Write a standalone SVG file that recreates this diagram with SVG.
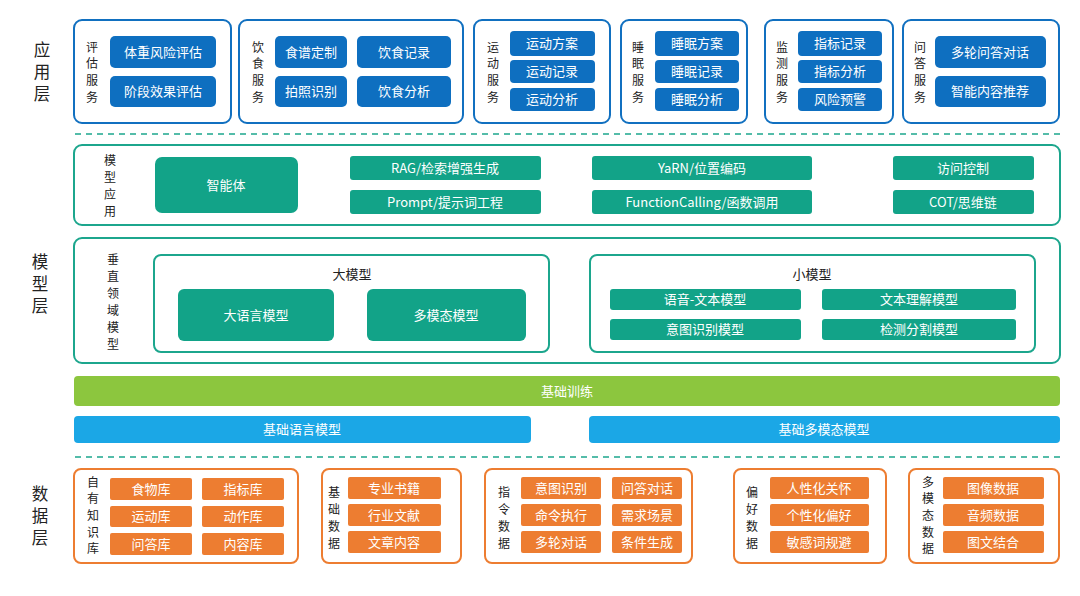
<svg xmlns="http://www.w3.org/2000/svg" width="1080" height="596" viewBox="0 0 1080 596">
<style>
text{font-family:"Noto Sans CJK SC","Noto Sans",sans-serif;text-anchor:middle;dominant-baseline:central}
.lay{font-size:16.5px;fill:#222}
.lab{font-size:12px;fill:#222}
.t{font-size:13px;fill:#222}
.bw{font-size:13px;fill:#fff}
.bo{fill:#fff;stroke:#1170c0;stroke-width:2}
.bb{fill:#0e6fc0}
.go{fill:#fff;stroke:#1ca68d;stroke-width:2}
.gb{fill:#12a388}
.oo{fill:#fff;stroke:#ed7d31;stroke-width:2}
.ob{fill:#ed7d31}
.dash{stroke:#1ca68d;stroke-width:1.5;stroke-dasharray:6 5}
</style>
<g transform="translate(0,-1.5)">
<g id="layer-labels">
<text class="lay" x="42" y="50">应</text><text class="lay" x="42" y="72">用</text><text class="lay" x="42" y="94">层</text>
<text class="lay" x="40" y="262">模</text><text class="lay" x="40" y="284">型</text><text class="lay" x="40" y="306">层</text>
<text class="lay" x="40" y="494">数</text><text class="lay" x="40" y="516">据</text><text class="lay" x="40" y="538">层</text>
</g>
</g>
<g id="separators">
<line class="dash" x1="75" y1="134" x2="1060" y2="134"/>
<line class="dash" x1="75" y1="457" x2="1060" y2="457"/>
</g>
<g id="eval">
<rect class="bo" x="74" y="20" width="157" height="103" rx="8"/>
<text class="lab" x="92" y="46">评</text><text class="lab" x="92" y="62">估</text><text class="lab" x="92" y="79">服</text><text class="lab" x="92" y="96">务</text>
<rect class="bb" x="110" y="36" width="106" height="32" rx="5"/><text class="bw" x="163" y="51">体重风险评估</text>
<rect class="bb" x="110" y="76" width="106" height="31" rx="5"/><text class="bw" x="163" y="90">阶段效果评估</text>
</g>
<g id="diet">
<rect class="bo" x="239" y="20" width="224" height="103" rx="8"/>
<text class="lab" x="258" y="46">饮</text><text class="lab" x="258" y="62">食</text><text class="lab" x="258" y="79">服</text><text class="lab" x="258" y="96">务</text>
<rect class="bb" x="275" y="36" width="72" height="32" rx="5"/><text class="bw" x="311" y="51">食谱定制</text>
<rect class="bb" x="357" y="36" width="94" height="32" rx="5"/><text class="bw" x="404" y="51">饮食记录</text>
<rect class="bb" x="275" y="76" width="72" height="31" rx="5"/><text class="bw" x="311" y="90">拍照识别</text>
<rect class="bb" x="357" y="76" width="94" height="31" rx="5"/><text class="bw" x="404" y="90">饮食分析</text>
</g>
<g id="sport">
<rect class="bo" x="474" y="20" width="136" height="103" rx="8"/>
<text class="lab" x="493" y="46">运</text><text class="lab" x="493" y="62">动</text><text class="lab" x="493" y="79">服</text><text class="lab" x="493" y="96">务</text>
<rect class="bb" x="510" y="31" width="85" height="25" rx="4"/><text class="bw" x="552" y="42">运动方案</text>
<rect class="bb" x="510" y="60" width="85" height="23" rx="4"/><text class="bw" x="552" y="70">运动记录</text>
<rect class="bb" x="510" y="88" width="85" height="23" rx="4"/><text class="bw" x="552" y="98">运动分析</text>
</g>
<g id="sleep">
<rect class="bo" x="621" y="20" width="126" height="103" rx="8"/>
<text class="lab" x="638" y="46">睡</text><text class="lab" x="638" y="62">眠</text><text class="lab" x="638" y="79">服</text><text class="lab" x="638" y="96">务</text>
<rect class="bb" x="655" y="31" width="84" height="25" rx="4"/><text class="bw" x="697" y="42">睡眠方案</text>
<rect class="bb" x="655" y="60" width="84" height="23" rx="4"/><text class="bw" x="697" y="70">睡眠记录</text>
<rect class="bb" x="655" y="88" width="84" height="23" rx="4"/><text class="bw" x="697" y="98">睡眠分析</text>
</g>
<g id="monitor">
<rect class="bo" x="765" y="20" width="128" height="103" rx="8"/>
<text class="lab" x="782" y="46">监</text><text class="lab" x="782" y="62">测</text><text class="lab" x="782" y="79">服</text><text class="lab" x="782" y="96">务</text>
<rect class="bb" x="798" y="31" width="84" height="25" rx="4"/><text class="bw" x="840" y="42">指标记录</text>
<rect class="bb" x="798" y="60" width="84" height="23" rx="4"/><text class="bw" x="840" y="70">指标分析</text>
<rect class="bb" x="798" y="88" width="84" height="23" rx="4"/><text class="bw" x="840" y="98">风险预警</text>
</g>
<g id="qa">
<rect class="bo" x="903" y="20" width="156" height="103" rx="8"/>
<text class="lab" x="920" y="46">问</text><text class="lab" x="920" y="62">答</text><text class="lab" x="920" y="79">服</text><text class="lab" x="920" y="96">务</text>
<rect class="bb" x="935" y="36" width="111" height="32" rx="5"/><text class="bw" x="990" y="51">多轮问答对话</text>
<rect class="bb" x="935" y="76" width="111" height="31" rx="5"/><text class="bw" x="990" y="90">智能内容推荐</text>
</g>
<g id="model-app">
<rect class="go" x="74" y="145" width="986" height="80" rx="8"/>
<text class="lab" x="110" y="159">模</text><text class="lab" x="110" y="176">型</text><text class="lab" x="110" y="193">应</text><text class="lab" x="110" y="210">用</text>
<rect class="gb" x="155" y="157" width="143" height="56" rx="7"/><text class="bw" x="226" y="184">智能体</text>
<rect class="gb" x="350" y="156" width="191" height="24" rx="3"/><text class="bw" x="445" y="167">RAG/检索增强生成</text>
<rect class="gb" x="350" y="190" width="191" height="24" rx="3"/><text class="bw" x="445" y="201">Prompt/提示词工程</text>
<rect class="gb" x="592" y="156" width="220" height="24" rx="3"/><text class="bw" x="702" y="167">YaRN/位置编码</text>
<rect class="gb" x="592" y="190" width="220" height="24" rx="3"/><text class="bw" x="702" y="201">FunctionCalling/函数调用</text>
<rect class="gb" x="893" y="156" width="141" height="24" rx="3"/><text class="bw" x="963" y="167">访问控制</text>
<rect class="gb" x="893" y="190" width="141" height="24" rx="3"/><text class="bw" x="963" y="201">COT/思维链</text>
</g>
<g id="vertical-model">
<rect class="go" x="74" y="238" width="986" height="125" rx="8"/>
<text class="lab" x="113" y="258">垂</text><text class="lab" x="113" y="275">直</text><text class="lab" x="113" y="292">领</text><text class="lab" x="113" y="309">域</text><text class="lab" x="113" y="326">模</text><text class="lab" x="113" y="343">型</text>
<rect class="go" x="154" y="255" width="395" height="97" rx="7"/>
<text class="t" x="352" y="273">大模型</text>
<rect class="gb" x="178" y="289" width="156" height="52" rx="6"/><text class="bw" x="256" y="314">大语言模型</text>
<rect class="gb" x="367" y="289" width="159" height="52" rx="6"/><text class="bw" x="446" y="314">多模态模型</text>
<rect class="go" x="590" y="255" width="445" height="97" rx="7"/>
<text class="t" x="812" y="273">小模型</text>
<rect class="gb" x="610" y="289" width="191" height="21" rx="3"/><text class="bw" x="705" y="298">语音-文本模型</text>
<rect class="gb" x="822" y="289" width="194" height="21" rx="3"/><text class="bw" x="919" y="298">文本理解模型</text>
<rect class="gb" x="610" y="319" width="191" height="21" rx="3"/><text class="bw" x="705" y="328">意图识别模型</text>
<rect class="gb" x="822" y="319" width="194" height="21" rx="3"/><text class="bw" x="919" y="328">检测分割模型</text>
</g>
<g id="base-train">
<rect x="74" y="376" width="986" height="30" rx="4" fill="#8cc63e"/><text class="bw" x="567" y="390">基础训练</text>
</g>
<g id="base-lang">
<rect x="74" y="416" width="457" height="27" rx="4" fill="#1ba7e6"/><text class="bw" x="302" y="428">基础语言模型</text>
</g>
<g id="base-mm">
<rect x="589" y="416" width="471" height="27" rx="4" fill="#1ba7e6"/><text class="bw" x="824" y="428">基础多模态模型</text>
</g>
<g id="kb">
<rect class="oo" x="74" y="469" width="224" height="94" rx="7"/>
<text class="lab" x="93" y="481">自</text><text class="lab" x="93" y="497">有</text><text class="lab" x="93" y="514">知</text><text class="lab" x="93" y="531">识</text><text class="lab" x="93" y="547">库</text>
<rect class="ob" x="110" y="478" width="82" height="22" rx="2"/><text class="bw" x="151" y="488">食物库</text>
<rect class="ob" x="202" y="478" width="82" height="22" rx="2"/><text class="bw" x="243" y="488">指标库</text>
<rect class="ob" x="110" y="506" width="82" height="21" rx="2"/><text class="bw" x="151" y="515">运动库</text>
<rect class="ob" x="202" y="506" width="82" height="21" rx="2"/><text class="bw" x="243" y="515">动作库</text>
<rect class="ob" x="110" y="533" width="82" height="22" rx="2"/><text class="bw" x="151" y="543">问答库</text>
<rect class="ob" x="202" y="533" width="82" height="22" rx="2"/><text class="bw" x="243" y="543">内容库</text>
</g>
<g id="basic-data">
<rect class="oo" x="322" y="469" width="139" height="94" rx="7"/>
<text class="lab" x="334" y="491">基</text><text class="lab" x="334" y="508">础</text><text class="lab" x="334" y="525">数</text><text class="lab" x="334" y="542">据</text>
<rect class="ob" x="348" y="477" width="93" height="22" rx="2"/><text class="bw" x="394" y="487">专业书籍</text>
<rect class="ob" x="348" y="504" width="93" height="22" rx="2"/><text class="bw" x="394" y="514">行业文献</text>
<rect class="ob" x="348" y="531" width="93" height="22" rx="2"/><text class="bw" x="394" y="541">文章内容</text>
</g>
<g id="instr-data">
<rect class="oo" x="485" y="469" width="207" height="94" rx="7"/>
<text class="lab" x="504" y="491">指</text><text class="lab" x="504" y="508">令</text><text class="lab" x="504" y="525">数</text><text class="lab" x="504" y="542">据</text>
<rect class="ob" x="521" y="477" width="80" height="22" rx="2"/><text class="bw" x="561" y="487">意图识别</text>
<rect class="ob" x="612" y="477" width="70" height="22" rx="2"/><text class="bw" x="647" y="487">问答对话</text>
<rect class="ob" x="521" y="504" width="80" height="22" rx="2"/><text class="bw" x="561" y="514">命令执行</text>
<rect class="ob" x="612" y="504" width="70" height="22" rx="2"/><text class="bw" x="647" y="514">需求场景</text>
<rect class="ob" x="521" y="531" width="80" height="22" rx="2"/><text class="bw" x="561" y="541">多轮对话</text>
<rect class="ob" x="612" y="531" width="70" height="22" rx="2"/><text class="bw" x="647" y="541">条件生成</text>
</g>
<g id="pref-data">
<rect class="oo" x="734" y="469" width="152" height="94" rx="7"/>
<text class="lab" x="752" y="491">偏</text><text class="lab" x="752" y="508">好</text><text class="lab" x="752" y="525">数</text><text class="lab" x="752" y="542">据</text>
<rect class="ob" x="770" y="477" width="99" height="22" rx="2"/><text class="bw" x="819" y="487">人性化关怀</text>
<rect class="ob" x="770" y="504" width="99" height="22" rx="2"/><text class="bw" x="819" y="514">个性化偏好</text>
<rect class="ob" x="770" y="531" width="99" height="22" rx="2"/><text class="bw" x="819" y="541">敏感词规避</text>
</g>
<g id="mm-data">
<rect class="oo" x="909" y="469" width="150" height="94" rx="7"/>
<text class="lab" x="928" y="481">多</text><text class="lab" x="928" y="497">模</text><text class="lab" x="928" y="514">态</text><text class="lab" x="928" y="531">数</text><text class="lab" x="928" y="547">据</text>
<rect class="ob" x="943" y="477" width="101" height="22" rx="2"/><text class="bw" x="993" y="487">图像数据</text>
<rect class="ob" x="943" y="504" width="101" height="22" rx="2"/><text class="bw" x="993" y="514">音频数据</text>
<rect class="ob" x="943" y="531" width="101" height="22" rx="2"/><text class="bw" x="993" y="541">图文结合</text>
</g>
<g id="connectors"/>
</svg>
